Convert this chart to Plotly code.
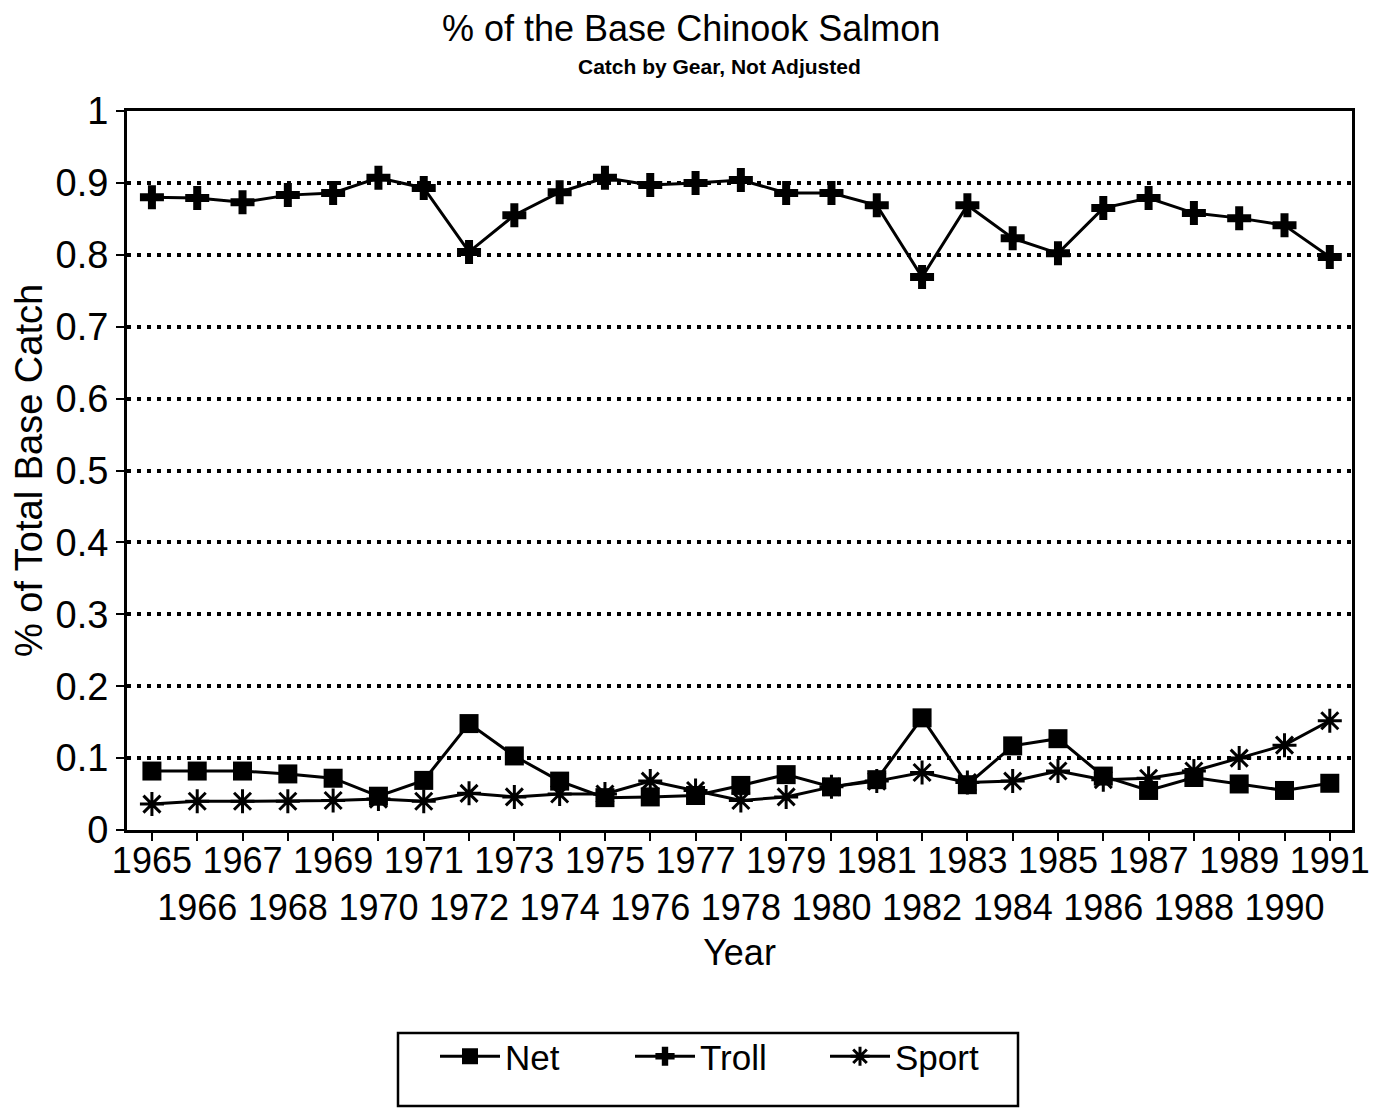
import plotly.graph_objects as go

years = list(range(1965, 1992))

net = [0.082, 0.082, 0.082, 0.078, 0.072, 0.047, 0.069, 0.148, 0.103, 0.068,
       0.045, 0.046, 0.048, 0.062, 0.077, 0.060, 0.070, 0.156, 0.063, 0.117,
       0.127, 0.075, 0.055, 0.073, 0.064, 0.055, 0.065]

troll = [0.880, 0.879, 0.873, 0.883, 0.886, 0.907, 0.893, 0.804, 0.855, 0.887,
         0.907, 0.897, 0.900, 0.904, 0.886, 0.886, 0.869, 0.769, 0.869, 0.823,
         0.802, 0.865, 0.879, 0.858, 0.851, 0.841, 0.797]

sport = [0.036, 0.040, 0.040, 0.040, 0.041, 0.043, 0.040, 0.051, 0.046, 0.050,
         0.050, 0.068, 0.055, 0.041, 0.046, 0.060, 0.068, 0.080, 0.066, 0.068,
         0.082, 0.070, 0.072, 0.082, 0.100, 0.118, 0.152]

y_ticks = [0, 0.1, 0.2, 0.3, 0.4, 0.5, 0.6, 0.7, 0.8, 0.9, 1]
y_labels = ["0", "0.1", "0.2", "0.3", "0.4", "0.5", "0.6", "0.7", "0.8", "0.9", "1"]

# odd years on the first label row, even years on the second
x_labels = [str(y) if y % 2 == 1 else "<br>" + str(y) for y in years]

SANS = "Liberation Sans, Arial"

fig = go.Figure()

fig.add_trace(go.Scatter(x=years, y=net, name="Net", mode="lines+markers",
                         line=dict(color="black", width=3),
                         marker=dict(symbol="square", size=19, color="black")))
fig.add_trace(go.Scatter(x=years, y=troll, name="Troll", mode="lines+markers",
                         line=dict(color="black", width=3),
                         marker=dict(symbol="cross", size=20, color="black")))
fig.add_trace(go.Scatter(x=years, y=sport, name="Sport", mode="lines+markers",
                         line=dict(color="black", width=3),
                         marker=dict(symbol="asterisk-open", size=20,
                                     line=dict(color="black", width=3))))

axis_common = dict(showline=True, linecolor="black", linewidth=3, mirror=True,
                   ticks="outside", ticklen=8, tickwidth=2, tickcolor="black")

fig.update_layout(
    width=1386, height=1108,
    paper_bgcolor="white", plot_bgcolor="white",
    margin=dict(l=119, r=42, t=103, b=286),
    font=dict(family=SANS, color="black"),
    showlegend=True,
    legend=dict(orientation="h", x=(435 - 127) / 1225, xanchor="left",
                y=-(1027 - 830) / 719, yanchor="top",
                font=dict(family=SANS, size=35), borderwidth=0,
                itemwidth=60, entrywidth=120, bgcolor="rgba(0,0,0,0)"),
    xaxis=dict(range=[1964.45, 1991.49], tickvals=years, ticktext=x_labels,
               tickangle=0, tickfont=dict(size=36, family=SANS), showgrid=False,
               ticklabelstandoff=-11,
               title=dict(text="Year", font=dict(size=36, family=SANS), standoff=13),
               **axis_common),
    yaxis=dict(range=[0, 1], tickvals=y_ticks, ticktext=y_labels,
               tickfont=dict(size=38, family=SANS), showgrid=True,
               gridcolor="black", gridwidth=4, griddash="4px,6px",
               zeroline=False,
               title=dict(text="% of Total Base Catch",
                          font=dict(size=38, family=SANS), standoff=4),
               **axis_common),
)

fig.add_annotation(text="% of the Base Chinook Salmon", xref="paper", yref="paper",
                   x=0.46, y=1.0, yshift=83, showarrow=False,
                   font=dict(size=36, family=SANS), xanchor="center", yanchor="middle")
fig.add_annotation(text="<b>Catch by Gear, Not Adjusted</b>", xref="paper", yref="paper",
                   x=0.484, y=1.0, yshift=45, showarrow=False,
                   font=dict(size=21, family=SANS), xanchor="center", yanchor="middle")

# legend frame, taller than the items as in the original
fig.add_shape(type="rect", xref="paper", yref="paper",
              x0=(398 - 127) / 1225, x1=(1018 - 127) / 1225,
              y0=-(1106 - 830) / 719, y1=-(1033 - 830) / 719,
              line=dict(color="black", width=2.5))

fig.write_html("out.html")
